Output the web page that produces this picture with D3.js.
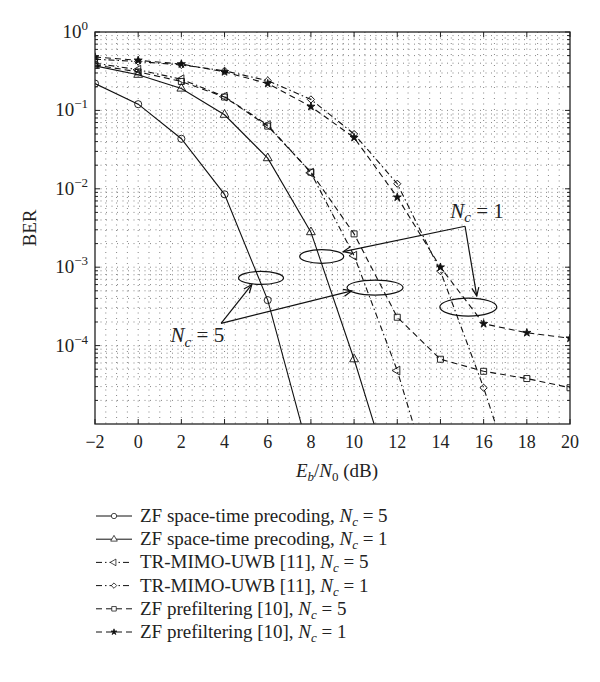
<!DOCTYPE html>
<html>
<head>
  <meta charset="utf-8">
  <title>BER vs Eb/N0</title>
  <script src="https://d3js.org/d3.v7.min.js"></script>
  <style>
    body { margin: 0; background: #fff; }
    text { font-family: "Liberation Serif", "DejaVu Serif", serif; fill: #222; }
  </style>
</head>
<body>
<div id="chart"></div>
<script>
  // Eb/N0 points (dB)
  var snr = [-2, 0, 2, 4, 6, 8, 10, 12, 14, 16, 18, 20];
  var xTicks = [-2, 0, 2, 4, 6, 8, 10, 12, 14, 16, 18, 20];
  var yTicks = [1, 1e-1, 1e-2, 1e-3, 1e-4];
  var yExp = ["0", "\u22121", "\u22122", "\u22123", "\u22124"];

  // BER (last point of some curves lies below the axes and gets clipped)
  var zfStNc5 = [0.22, 0.12, 0.0435, 0.0085, 3.8e-4, 3.5e-6];
  var zfStNc1 = [0.37, 0.285, 0.19, 0.088, 0.0246, 0.0028, 6.7e-5, 1.1e-6];
  var trNc5 = [0.40, 0.33, 0.25, 0.15, 0.065, 0.016, 1.4e-3, 4.8e-5, 7e-7];
  var trNc1 = [0.45, 0.42, 0.38, 0.32, 0.24, 0.138, 0.05, 0.0116, 8.9e-4, 2.9e-5, 6e-7];
  var zfPreNc5 = [0.38, 0.31, 0.234, 0.148, 0.063, 0.0163, 2.66e-3, 2.3e-4, 6.7e-5, 4.7e-5, 3.8e-5, 2.9e-5];
  var zfPreNc1 = [0.48, 0.435, 0.39, 0.31, 0.22, 0.112, 0.045, 0.0078, 1e-3, 1.9e-4, 1.46e-4, 1.24e-4];

  var seriesList = [zfStNc5, zfStNc1, trNc5, trNc1, zfPreNc5, zfPreNc1];
  var legendNames = ["ZF space-time precoding, ", "ZF space-time precoding, ",
    "TR-MIMO-UWB [11], ", "TR-MIMO-UWB [11], ",
    "ZF prefiltering [10], ", "ZF prefiltering [10], "];
  var legendNc = ["5", "1", "5", "1", "5", "1"];

  // annotations: [Eb/N0, BER]
  var ellipses = [[5.69, 7.3e-4], [8.5, 1.37e-3], [10.97, 5.5e-4], [15.29, 3.1e-4]];
  var nc5From = [3.84, 1.92e-4];
  var nc5To = [[5.26, 6.0e-4], [9.89, 5.0e-4]];
  var nc1Corner = [15.14, 3.33e-3];
  var nc1To = [[9.5, 1.58e-3], [15.68, 4.3e-4]];
  var nc5Label = [1.5, 1.1e-4];
  var nc1Label = [14.45, 4.3e-3];

  // styles
  var dashes = [null, null, "6,3,1.5,3", "6,3,1.5,3", "6,4", "6,4"];
  var markers = ["circle", "triangle", "left", "diamond", "square", "star"];
  var ellipseR = [[22.5, 6.5], [22, 6.8], [28, 7.5], [28.5, 9]];

  var W = 600, H = 682;
  var x = d3.scaleLinear().domain([-2, 20]).range([95, 570]);
  var y = d3.scaleLog().domain([1e-5, 1]).range([424, 32]);

  var svg = d3.select("#chart").append("svg")
    .attr("width", W)
    .attr("height", H)

  svg.append("rect").attr("width", W).attr("height", H).attr("fill", "#fff")

  svg.append("defs").append("clipPath").attr("id", "plot-clip")
    .append("rect")
    .attr("x", x(-2)).attr("y", y(1))
    .attr("width", x(20) - x(-2)).attr("height", y(1e-5) - y(1))

  // dotted grid
  var grid = svg.append("g").attr("stroke", "#777").attr("stroke-width", 0.9)
    .attr("stroke-dasharray", "1,4.5")
  var xGrid = d3.range(-1.5, 20, 0.5);
  grid.selectAll(".gx").data(xGrid).join("line")
    .attr("x1", d => x(d)).attr("x2", d => x(d))
    .attr("y1", y(1)).attr("y2", y(1e-5))
  var yGrid = [];
  for (var e = -5; e < 0; e++) {
    for (var m = 1; m < 10; m++) {
      if (!(e == -5 && m == 1)) yGrid.push(m * Math.pow(10, e));
    }
  }
  grid.selectAll(".gy").data(yGrid).join("line")
    .attr("x1", x(-2)).attr("x2", x(20))
    .attr("y1", d => y(d)).attr("y2", d => y(d))

  // curves
  function markerPath(type) {
    if (type == "circle") return d3.symbol(d3.symbolCircle, 40)();
    if (type == "triangle" || type == "left") return d3.symbol(d3.symbolTriangle, 34)();
    if (type == "diamond") return d3.symbol(d3.symbolSquare, 26)();
    if (type == "square") return d3.symbol(d3.symbolSquare, 36)();
    return d3.symbol(d3.symbolStar, 20)();
  }
  function markerRot(type) {
    if (type == "left") return " rotate(-90)";
    if (type == "diamond") return " rotate(45)";
    return "";
  }

  var line = d3.line().x(d => x(d[0])).y(d => y(d[1]));
  var plot = svg.append("g").attr("clip-path", "url(#plot-clip)")

  seriesList.forEach(function (vals, i) {
    var pts = vals.map((v, j) => [snr[j], v]);
    plot.append("path")
      .attr("d", line(pts))
      .attr("fill", "none")
      .attr("stroke", "#111")
      .attr("stroke-width", 1.1)
      .attr("stroke-dasharray", dashes[i])
    plot.selectAll(".m" + i).data(pts).join("path")
      .attr("d", markerPath(markers[i]))
      .attr("transform", d => "translate(" + x(d[0]) + "," + y(d[1]) + ")" + markerRot(markers[i]))
      .attr("fill", markers[i] == "star" ? "#111" : "none")
      .attr("stroke", "#111")
      .attr("stroke-width", 0.9)
  })

  // annotations
  var ann = svg.append("g").attr("stroke", "#111").attr("fill", "none").attr("stroke-width", 1.2)
  ann.selectAll("ellipse").data(ellipses).join("ellipse")
    .attr("cx", d => x(d[0])).attr("cy", d => y(d[1]))
    .attr("rx", (d, i) => ellipseR[i][0]).attr("ry", (d, i) => ellipseR[i][1])

  function arrow(a, b) {
    var x1 = x(a[0]), y1 = y(a[1]), x2 = x(b[0]), y2 = y(b[1]);
    ann.append("line").attr("x1", x1).attr("y1", y1).attr("x2", x2).attr("y2", y2)
    var ang = Math.atan2(y2 - y1, x2 - x1), len = 9, spread = 0.4;
    ann.append("path")
      .attr("d", "M" + (x2 - len * Math.cos(ang - spread)) + "," + (y2 - len * Math.sin(ang - spread)) +
        "L" + x2 + "," + y2 +
        "L" + (x2 - len * Math.cos(ang + spread)) + "," + (y2 - len * Math.sin(ang + spread)))
  }
  nc5To.forEach(t => arrow(nc5From, t));
  nc1To.forEach(t => arrow(nc1Corner, t));

  function ncLabel(g, px, py, val, size) {
    var t = g.append("text").attr("x", px).attr("y", py).attr("font-size", size)
    t.append("tspan").attr("font-style", "italic").text("N")
    t.append("tspan").attr("font-style", "italic").attr("font-size", size * 0.72)
      .attr("dy", size * 0.22).text("c")
    t.append("tspan").attr("dy", -size * 0.22).text(" = " + val)
    return t;
  }
  ncLabel(svg, x(nc5Label[0]), y(nc5Label[1]), "5", 21)
  ncLabel(svg, x(nc1Label[0]), y(nc1Label[1]), "1", 21)

  // axes box and ticks
  svg.append("rect")
    .attr("x", x(-2)).attr("y", y(1))
    .attr("width", x(20) - x(-2)).attr("height", y(1e-5) - y(1))
    .attr("fill", "none").attr("stroke", "#222").attr("stroke-width", 1.3)

  var ticks = svg.append("g").attr("stroke", "#222").attr("stroke-width", 1)
  xTicks.forEach(function (t) {
    ticks.append("line").attr("x1", x(t)).attr("x2", x(t)).attr("y1", y(1e-5)).attr("y2", y(1e-5) - 5)
    ticks.append("line").attr("x1", x(t)).attr("x2", x(t)).attr("y1", y(1)).attr("y2", y(1) + 5)
  })
  yGrid.concat([1]).forEach(function (t) {
    var major = Math.abs(Math.log10(t) - Math.round(Math.log10(t))) < 1e-9;
    var l = major ? 5 : 3;
    ticks.append("line").attr("x1", x(-2)).attr("x2", x(-2) + l).attr("y1", y(t)).attr("y2", y(t))
    ticks.append("line").attr("x1", x(20)).attr("x2", x(20) - l).attr("y1", y(t)).attr("y2", y(t))
  })

  svg.selectAll(".xt").data(xTicks).join("text")
    .attr("x", d => x(d)).attr("y", 448)
    .attr("text-anchor", "middle").attr("font-size", 18)
    .text(d => d < 0 ? "\u2212" + Math.abs(d) : d)

  yTicks.forEach(function (t, i) {
    var tx = svg.append("text").attr("x", 88).attr("y", y(t) + 6)
      .attr("text-anchor", "end").attr("font-size", 19)
    tx.append("tspan").text("10")
    tx.append("tspan").attr("font-size", 13).attr("dy", -8).text(yExp[i])
  })

  // axis titles
  var xt = svg.append("text").attr("x", 337).attr("y", 477)
    .attr("text-anchor", "middle").attr("font-size", 19)
  xt.append("tspan").attr("font-style", "italic").text("E")
  xt.append("tspan").attr("font-style", "italic").attr("font-size", 13).attr("dy", 4).text("b")
  xt.append("tspan").attr("dy", -4).text("/")
  xt.append("tspan").attr("font-style", "italic").text("N")
  xt.append("tspan").attr("font-size", 13).attr("dy", 4).text("0")
  xt.append("tspan").attr("dy", -4).text(" (dB)")

  svg.append("text")
    .attr("transform", "translate(36,228) rotate(-90)")
    .attr("text-anchor", "middle").attr("font-size", 19)
    .text("BER")

  // legend
  var leg = svg.append("g")
  legendNames.forEach(function (name, i) {
    var ly = 516 + i * 23.2;
    leg.append("line").attr("x1", 96).attr("x2", 132).attr("y1", ly).attr("y2", ly)
      .attr("stroke", "#111").attr("stroke-width", 1)
      .attr("stroke-dasharray", dashes[i])
    leg.append("path")
      .attr("d", markerPath(markers[i]))
      .attr("transform", "translate(114," + ly + ") scale(0.75)" + markerRot(markers[i]))
      .attr("fill", markers[i] == "star" ? "#111" : "#fff")
      .attr("stroke", "#111").attr("stroke-width", 1)
    var t = leg.append("text").attr("x", 140).attr("y", ly + 6).attr("font-size", 19)
    t.append("tspan").text(name)
    t.append("tspan").attr("font-style", "italic").text("N")
    t.append("tspan").attr("font-style", "italic").attr("font-size", 13).attr("dy", 4).text("c")
    t.append("tspan").attr("dy", -4).text(" = " + legendNc[i])
  })
</script>
</body>
</html>
